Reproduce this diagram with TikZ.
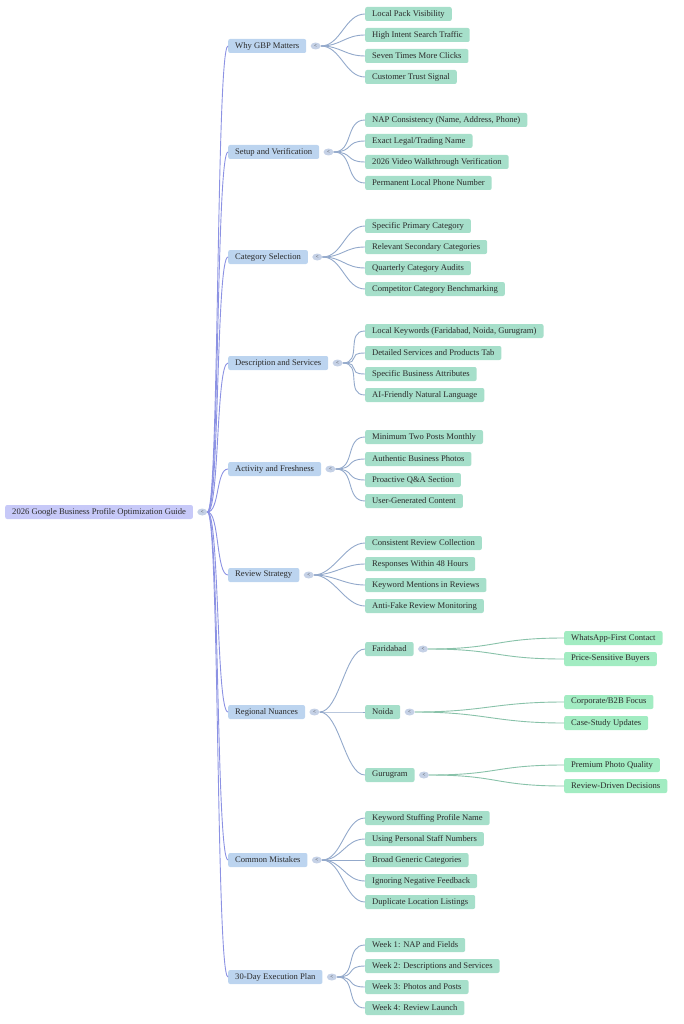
\documentclass[tikz,border=0pt]{standalone}
\usepackage{fontspec}
\setmainfont{Liberation Serif}
\usepackage{xcolor}
\usetikzlibrary{shapes,positioning}
\definecolor{rootfill}{HTML}{C7C9F8}
\definecolor{topicfill}{HTML}{BCD4EF}
\definecolor{leaffill}{HTML}{A6DFCA}
\definecolor{cityfill}{HTML}{A2ECC2}
\definecolor{knobfill}{HTML}{C5D1E6}
\definecolor{rootline}{HTML}{8C92E3}
\definecolor{topicline}{HTML}{93A9CB}
\definecolor{cityline}{HTML}{88C2A9}
\definecolor{inktext}{HTML}{2B2B2B}

\begin{document}
\begin{tikzpicture}[
    x=1pt, y=-1pt,
    every node/.style={font=\fontsize{8.6}{9}\selectfont, text=inktext},
    mbox/.style={fill=#1, rounded corners=2pt, minimum height=14pt, inner xsep=7pt, inner ysep=0pt, anchor=west},
    knob/.style={ellipse, fill=knobfill, minimum width=10pt, minimum height=7pt, inner sep=0pt, font=\fontsize{5}{5}\selectfont, right=4pt of #1},
    link/.style={draw=#1, line width=0.9pt}
]
    \useasboundingbox (0,0) rectangle (683,1024);

    % Root
    \node[mbox=rootfill] (root) at (5,512) {2026 Google Business Profile Optimization Guide};
    \node[knob=root] (rootk) {<};

    % Topics
    \node[mbox=topicfill] (why) at (228,46) {Why GBP Matters};
    \node[mbox=topicfill] (setup) at (228,152) {Setup and Verification};
    \node[mbox=topicfill] (categ) at (228,257) {Category Selection};
    \node[mbox=topicfill] (descr) at (228,363) {Description and Services};
    \node[mbox=topicfill] (activ) at (228,469) {Activity and Freshness};
    \node[mbox=topicfill] (review) at (228,575) {Review Strategy};
    \node[mbox=topicfill] (region) at (228,712) {Regional Nuances};
    \node[mbox=topicfill] (mistake) at (228,860) {Common Mistakes};
    \node[mbox=topicfill] (plan) at (228,977) {30-Day Execution Plan};
    \foreach \t in {why,setup,categ,descr,activ,review,region,mistake,plan}
        \node[knob=\t] (\t k) {<};

    % Why GBP Matters
    \node[mbox=leaffill] (why1) at (365,14) {Local Pack Visibility};
    \node[mbox=leaffill] (why2) at (365,35) {High Intent Search Traffic};
    \node[mbox=leaffill] (why3) at (365,56) {Seven Times More Clicks};
    \node[mbox=leaffill] (why4) at (365,77) {Customer Trust Signal};

    % Setup and Verification
    \node[mbox=leaffill] (setup1) at (365,120) {NAP Consistency (Name, Address, Phone)};
    \node[mbox=leaffill] (setup2) at (365,141) {Exact Legal/Trading Name};
    \node[mbox=leaffill] (setup3) at (365,162) {2026 Video Walkthrough Verification};
    \node[mbox=leaffill] (setup4) at (365,183) {Permanent Local Phone Number};

    % Category Selection
    \node[mbox=leaffill] (categ1) at (365,226) {Specific Primary Category};
    \node[mbox=leaffill] (categ2) at (365,247) {Relevant Secondary Categories};
    \node[mbox=leaffill] (categ3) at (365,268) {Quarterly Category Audits};
    \node[mbox=leaffill] (categ4) at (365,289) {Competitor Category Benchmarking};

    % Description and Services
    \node[mbox=leaffill] (descr1) at (365,331) {Local Keywords (Faridabad, Noida, Gurugram)};
    \node[mbox=leaffill] (descr2) at (365,353) {Detailed Services and Products Tab};
    \node[mbox=leaffill] (descr3) at (365,374) {Specific Business Attributes};
    \node[mbox=leaffill] (descr4) at (365,395) {AI-Friendly Natural Language};

    % Activity and Freshness
    \node[mbox=leaffill] (activ1) at (365,437) {Minimum Two Posts Monthly};
    \node[mbox=leaffill] (activ2) at (365,459) {Authentic Business Photos};
    \node[mbox=leaffill] (activ3) at (365,480) {Proactive Q\&A Section};
    \node[mbox=leaffill] (activ4) at (365,501) {User-Generated Content};

    % Review Strategy
    \node[mbox=leaffill] (review1) at (365,543) {Consistent Review Collection};
    \node[mbox=leaffill] (review2) at (365,564) {Responses Within 48 Hours};
    \node[mbox=leaffill] (review3) at (365,585) {Keyword Mentions in Reviews};
    \node[mbox=leaffill] (review4) at (365,606) {Anti-Fake Review Monitoring};

    % Regional Nuances
    \node[mbox=leaffill] (fbd) at (365,649) {Faridabad};
    \node[mbox=leaffill] (noida) at (365,712) {Noida};
    \node[mbox=leaffill] (ggn) at (365,775) {Gurugram};
    \foreach \t in {fbd,noida,ggn}
        \node[knob=\t] (\t k) {<};
    \node[mbox=cityfill] (fbd1) at (564,638) {WhatsApp-First Contact};
    \node[mbox=cityfill] (fbd2) at (564,659) {Price-Sensitive Buyers};
    \node[mbox=cityfill] (noida1) at (564,702) {Corporate/B2B Focus};
    \node[mbox=cityfill] (noida2) at (564,723) {Case-Study Updates};
    \node[mbox=cityfill] (ggn1) at (564,765) {Premium Photo Quality};
    \node[mbox=cityfill] (ggn2) at (564,786) {Review-Driven Decisions};

    % Common Mistakes
    \node[mbox=leaffill] (mistake1) at (365,818) {Keyword Stuffing Profile Name};
    \node[mbox=leaffill] (mistake2) at (365,839) {Using Personal Staff Numbers};
    \node[mbox=leaffill] (mistake3) at (365,860) {Broad Generic Categories};
    \node[mbox=leaffill] (mistake4) at (365,881) {Ignoring Negative Feedback};
    \node[mbox=leaffill] (mistake5) at (365,902) {Duplicate Location Listings};

    % 30-Day Execution Plan
    \node[mbox=leaffill] (plan1) at (365,945) {Week 1: NAP and Fields};
    \node[mbox=leaffill] (plan2) at (365,966) {Week 2: Descriptions and Services};
    \node[mbox=leaffill] (plan3) at (365,987) {Week 3: Photos and Posts};
    \node[mbox=leaffill] (plan4) at (365,1008) {Week 4: Review Launch};

    % Root branches
    \foreach \t in {why,setup,categ,descr,activ,review,region,mistake,plan}
        \draw[link=rootline] (rootk.east) .. controls +(12,0) and +(-12,0) .. (\t.west);

    % Topic branches
    \foreach \t/\n in {why/4,setup/4,categ/4,descr/4,activ/4,review/4,mistake/5,plan/4}
        \foreach \i in {1,...,\n}
            \draw[link=topicline] (\t k.east) .. controls +(20,0) and +(-20,0) .. (\t\i.west);
    \foreach \c in {fbd,noida,ggn}
        \draw[link=topicline] (regionk.east) .. controls +(20,0) and +(-20,0) .. (\c.west);

    % City branches
    \foreach \c in {fbd,noida,ggn}
        \foreach \i in {1,2}
            \draw[link=cityline] (\c k.east) .. controls +(70,0) and +(-70,0) .. (\c\i.west);
\end{tikzpicture}
\end{document}
